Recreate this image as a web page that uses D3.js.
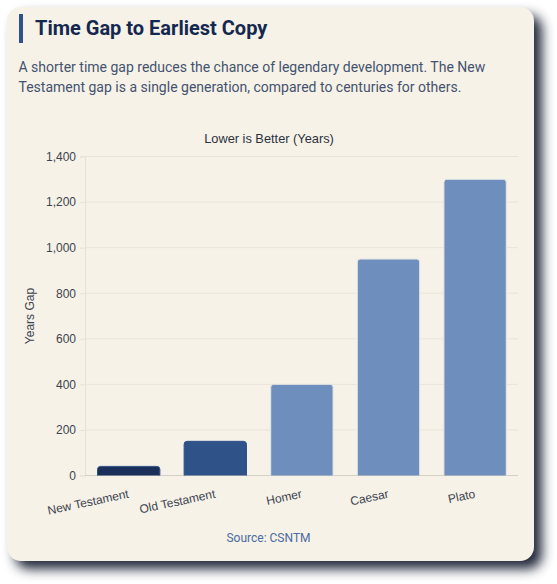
<!DOCTYPE html>
<html><head><meta charset="utf-8">
<script src="https://cdn.jsdelivr.net/npm/d3@7/dist/d3.min.js"></script>
<style>
html,body{margin:0;padding:0;background:#fff;width:557px;height:584px;overflow:hidden}
svg{position:absolute;left:0;top:0}
#card{position:absolute;left:7px;top:7px;width:527px;height:554px;background:#f7f2e8;border-radius:14px;box-shadow:8px 8px 12px rgba(15,23,42,.92)}
#bar{position:absolute;left:19px;top:14px;width:4px;height:29px;background:#2f5288}
h1{position:absolute;left:35px;top:14px;margin:0;font:700 20px/29px Roboto,sans-serif;color:#14284f;white-space:nowrap}
p{position:absolute;left:18.5px;top:57px;margin:0;width:500px;font:400 14px/20px Roboto,sans-serif;color:#43536f}
</style></head><body>
<div id="card"></div><div id="bar"></div>
<h1>Time Gap to Earliest Copy</h1>
<p>A shorter time gap reduces the chance of legendary development. The New Testament gap is a single generation, compared to centuries for others.</p>
<svg id="c" width="557" height="584"></svg>
<script>
const categories=["New Testament","Old Testament","Homer","Caesar","Plato"];
const values=[40,150,400,950,1300];
const barColors=["#1a2f5a","#2f5288","#6e8fbd","#6e8fbd","#6e8fbd"];
const barBorders=["#2f5288","#2f5288","#e6e6e6","#e6e6e6","#e6e6e6"];
const yTicks=[0,200,400,600,800,1000,1200,1400];
const chartTitle="Lower is Better (Years)";
const yTitle="Years Gap";
const source="Source: CSNTM";
const font="Roboto,sans-serif";
const chartFont="'Liberation Sans',Arial,sans-serif";
const svg=d3.select("#c");
const x=d3.scaleBand().domain(categories).range([85,518]).paddingInner(0).paddingOuter(0);
const y=d3.scaleLinear().domain([0,1400]).range([475.5,156.5]);
const yAxis=d3.axisLeft(y).tickValues(yTicks).tickSize(5).tickPadding(4).tickFormat(d3.format(","));
const gy=svg.append("g").attr("transform","translate(85,0)").call(yAxis);
gy.select(".domain").attr("stroke","#e6e1d5");
gy.selectAll(".tick line").attr("stroke","#e6e1d5");
gy.selectAll(".tick text").attr("fill","#3d4450").attr("font-family",chartFont).attr("font-size",12);
svg.append("g").selectAll("line").data(yTicks).join("line")
 .attr("x1",85).attr("x2",518).attr("y1",d=>y(d)).attr("y2",d=>y(d))
 .attr("stroke",d=>d===0?"#d4d0c6":"#e9e4d8").attr("stroke-width",1);
const bw=x.bandwidth()*0.72;
const round=3;
svg.append("g").selectAll("path").data(categories).join("path")
 .attr("fill",(d,i)=>barColors[i])
 .attr("stroke",(d,i)=>barBorders[i]).attr("stroke-width",1)
 .attr("d",(d,i)=>{
   const l=x(d)+(x.bandwidth()-bw)/2+0.4,t=y(values[i]),r=l+bw,b=y(0);
   return `M${l},${b}L${l},${t+round}Q${l},${t} ${l+round},${t}L${r-round},${t}Q${r},${t} ${r},${t+round}L${r},${b}`;
 });
const xAxis=d3.axisBottom(x).tickSize(0);
const gx=svg.append("g").attr("transform","translate(0,475.5)").call(xAxis);
gx.select(".domain").remove();
gx.selectAll(".tick text").attr("fill","#3d4450").attr("font-family",chartFont).attr("font-size",12)
 .attr("text-anchor","end").attr("dy",0).attr("y",0).attr("x",0)
 .attr("transform","translate(1,22) rotate(-12)");
svg.append("text").attr("x",269).attr("y",143).attr("text-anchor","middle").attr("font-family",chartFont).attr("font-size",12.8).attr("fill","#2b3240").text(chartTitle);
svg.append("text").attr("transform","translate(34,316) rotate(-90)").attr("text-anchor","middle").attr("font-family",chartFont).attr("font-size",12).attr("fill","#3d4450").text(yTitle);
svg.append("text").attr("x",268.5).attr("y",542).attr("text-anchor","middle").attr("font-family",font).attr("font-size",12).attr("fill","#4a6b9f").text(source);
</script></body></html>
